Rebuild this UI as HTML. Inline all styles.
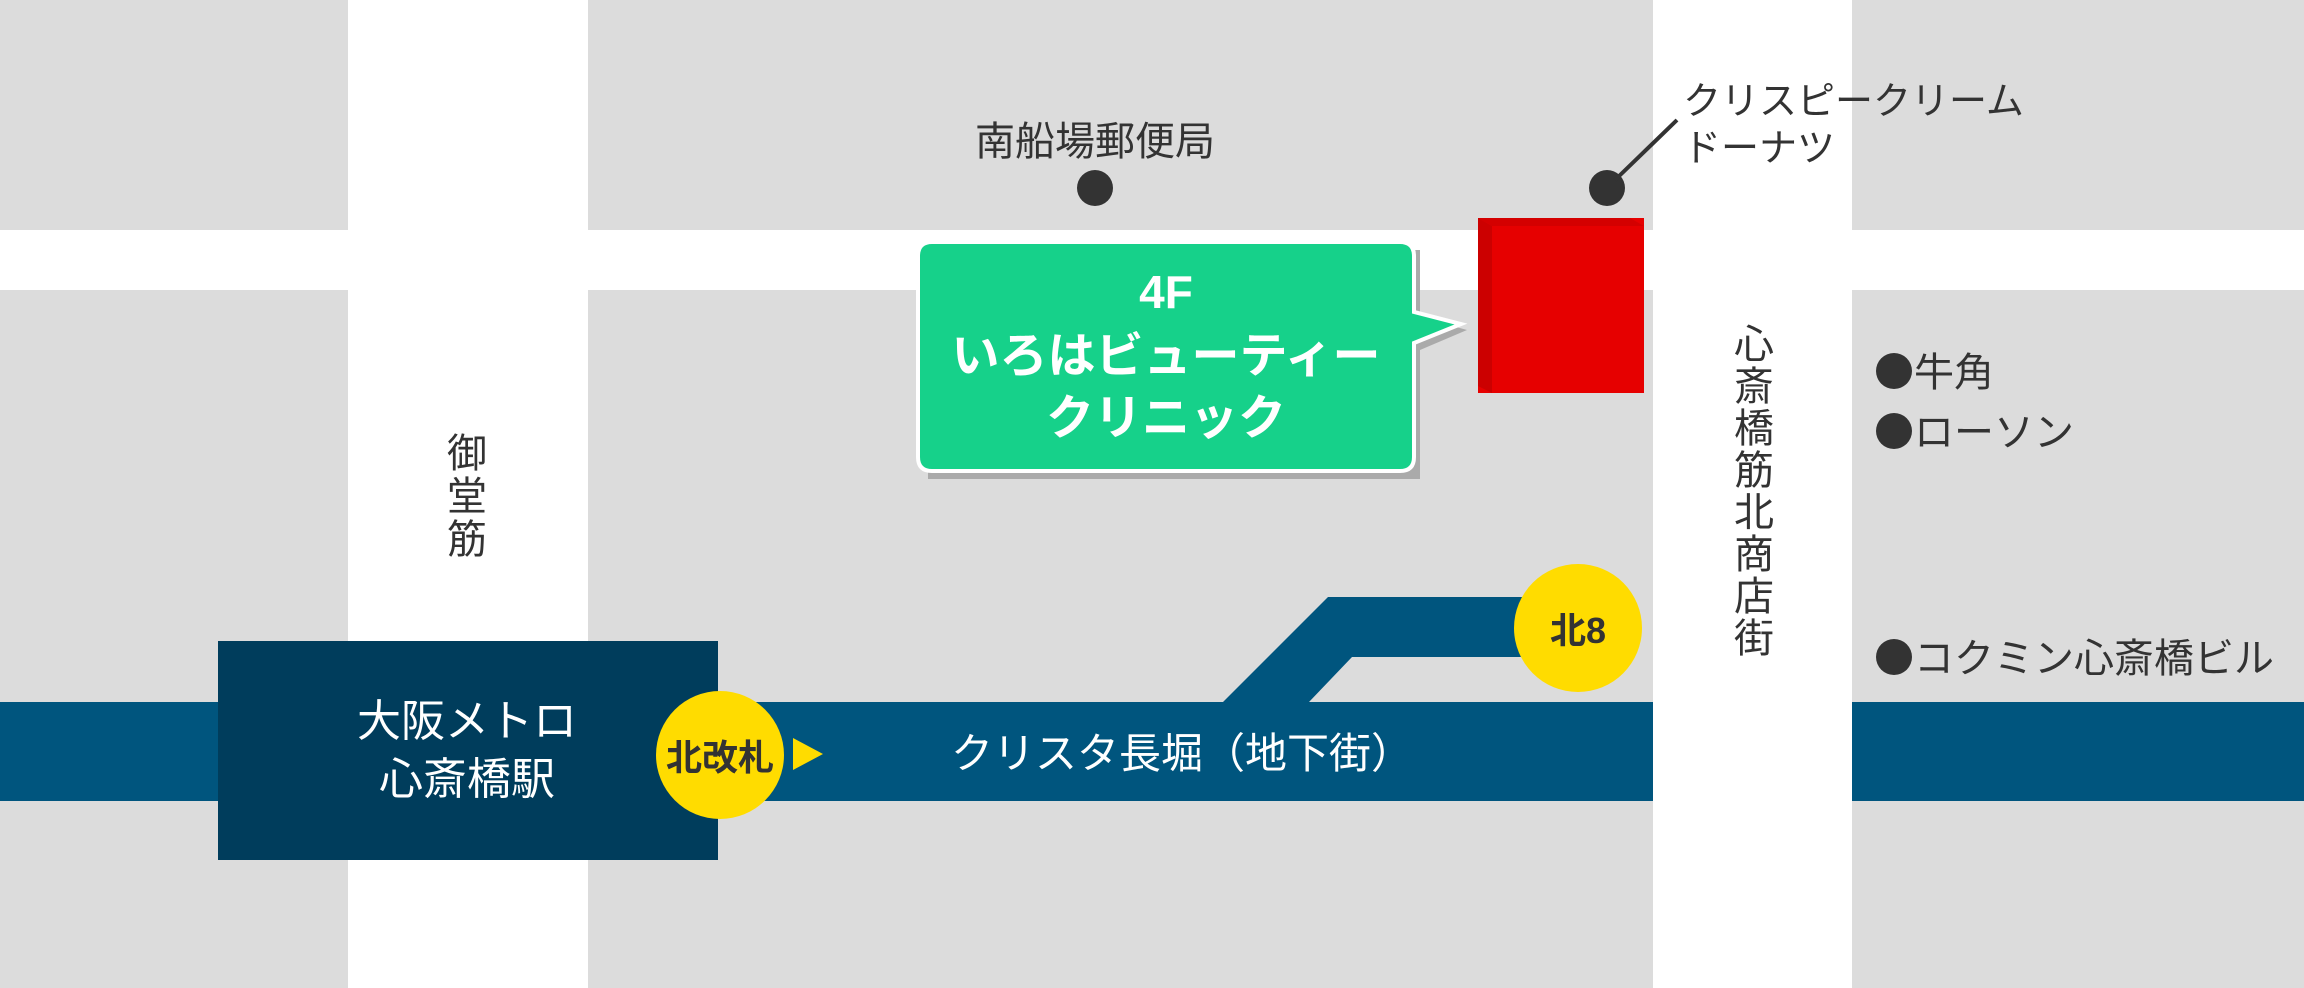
<!DOCTYPE html>
<html><head><meta charset="utf-8"><style>
html,body{margin:0;padding:0;background:#fff}
svg{display:block}
text{font-family:"Liberation Sans","Noto Sans CJK JP",sans-serif}
</style></head><body>
<svg width="2304" height="988" viewBox="0 0 2304 988" xmlns="http://www.w3.org/2000/svg">
<rect width="2304" height="988" fill="#fff"/>
<g fill="#dcdcdc">
<rect x="0" y="0" width="348" height="230"/>
<rect x="588" y="0" width="1065" height="230"/>
<rect x="1852" y="0" width="452" height="230"/>
<rect x="0" y="290" width="348" height="698"/>
<rect x="588" y="290" width="1065" height="698"/>
<rect x="1852" y="290" width="452" height="698"/>
</g>
<g fill="#00557e">
<rect x="0" y="702" width="1653" height="99"/>
<rect x="1852" y="702" width="452" height="99"/>
<polygon points="1328,597 1580,597 1580,657 1352,657 1309,702 1223,702"/>
</g>
<rect x="218" y="641" width="500" height="219" fill="#003d5c"/>
<text x="467" y="736" font-size="44" fill="#fff" text-anchor="middle">大阪メトロ</text>
<text x="467" y="794" font-size="44" fill="#fff" text-anchor="middle">心斎橋駅</text>
<ellipse cx="720" cy="755" rx="64" ry="64" fill="#ffdc00"/>
<text x="720" y="770" font-size="36" font-weight="bold" fill="#333" text-anchor="middle">北改札</text>
<polygon points="793,738 823,754 793,770" fill="#ffdc00"/>
<text x="951" y="768" font-size="42" fill="#fff">クリスタ長堀（地下街）</text>
<ellipse cx="1578" cy="628" rx="64" ry="64" fill="#ffdc00"/>
<text x="1578" y="643" font-size="36" font-weight="bold" fill="#333" text-anchor="middle">北8</text>
<g fill="#333">
<text x="1095" y="155" font-size="40" text-anchor="middle">南船場郵便局</text>
<circle cx="1095" cy="188" r="18"/>
<circle cx="1607" cy="188" r="18"/>
<line x1="1615" y1="180" x2="1677" y2="120" stroke="#333" stroke-width="4"/>
<text x="1683" y="114" font-size="38">クリスピークリーム</text>
<text x="1683" y="161" font-size="38">ドーナツ</text>
<g font-size="40" text-anchor="middle">
<text x="467" y="467">御</text><text x="467" y="510">堂</text><text x="467" y="553">筋</text>
<text x="1754" y="358">心</text><text x="1754" y="400">斎</text><text x="1754" y="442">橋</text><text x="1754" y="484">筋</text>
<text x="1754" y="526">北</text><text x="1754" y="568">商</text><text x="1754" y="610">店</text><text x="1754" y="652">街</text>
</g>
<circle cx="1894" cy="371" r="18"/>
<circle cx="1894" cy="431" r="18"/>
<circle cx="1894" cy="657" r="18"/>
<text x="1914" y="386" font-size="40">牛角</text>
<text x="1914" y="446" font-size="40">ローソン</text>
<text x="1914" y="672" font-size="40">コクミン心斎橋ビル</text>
</g>
<rect x="1478" y="218" width="166" height="175" fill="#e60000"/>
<polygon points="1478,218 1492,226 1492,393 1478,386" fill="#cc0000"/>
<polygon points="1478,218 1630,218 1644,226 1492,226" fill="#d40000"/>
<path d="M928,250 H1420 V317 L1467,330 L1420,350 V479 H928 Z" fill="#aaa"/>
<path d="M932,242 H1400 Q1414,242 1414,256 V312 L1461,324 L1414,343 V457 Q1414,471 1400,471 H932 Q918,471 918,457 V256 Q918,242 932,242 Z" fill="#16d18a" stroke="#fff" stroke-width="4"/>
<g fill="#fff" font-weight="bold" text-anchor="middle">
<text x="1166" y="308" font-size="46">4F</text>
<text x="1166" y="372" font-size="48">いろはビューティー</text>
<text x="1166" y="434" font-size="48">クリニック</text>
</g>
</svg>
</body></html>
